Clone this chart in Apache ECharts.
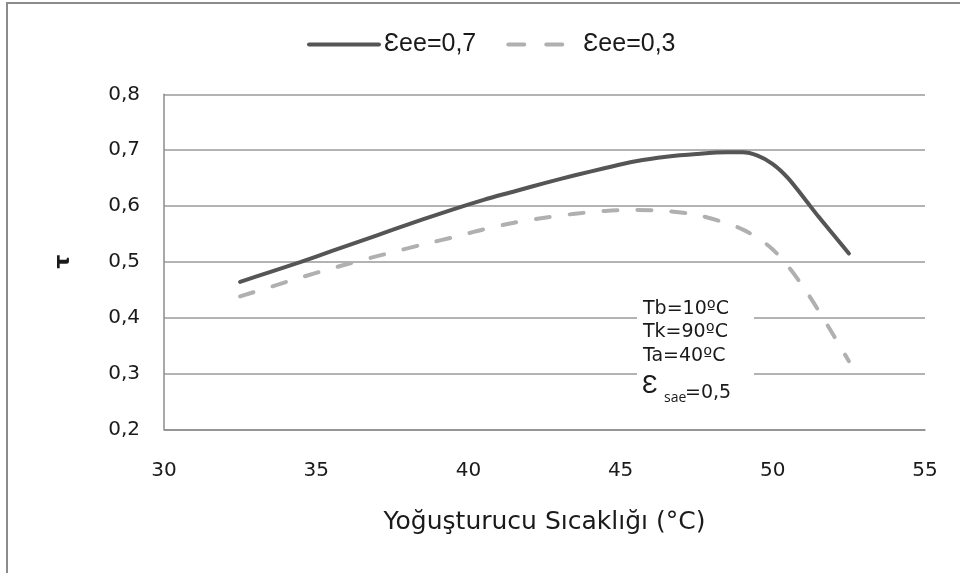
<!DOCTYPE html>
<html><head><meta charset="utf-8">
<script src="https://cdn.jsdelivr.net/npm/echarts@6/dist/echarts.min.js"></script>
<style>html,body{margin:0;padding:0;background:#fff}#c{width:960px;height:573px}</style>
</head><body><div id="c"></div>
<script>
const seriesNames = ['Ɛee=0,7', 'Ɛee=0,3'];
const xValues = [32.5,33.5,34.5,35.5,36.5,37.5,38.5,39.5,40.5,41.5,42.5,43.5,44.5,45.5,46.5,47.5,48.5,49.0,49.5,50.0,50.5,51.0,51.5,52.0,52.5];
const tau07 = [0.464,0.482,0.500,0.519,0.538,0.557,0.576,0.594,0.611,0.626,0.641,0.655,0.668,0.680,0.688,0.693,0.696,0.696,0.690,0.675,0.650,0.616,0.581,0.548,0.515];
const tau03 = [0.438,0.455,0.472,0.488,0.503,0.517,0.531,0.544,0.558,0.570,0.579,0.586,0.591,0.593,0.591,0.584,0.569,0.558,0.543,0.522,0.492,0.455,0.413,0.368,0.322];
const xAxisTitle = 'Yoğuşturucu Sıcaklığı (°C)';
const yAxisTitle = 'τ';
const noteLines = ['Tb=10ºC', 'Tk=90ºC', 'Ta=40ºC'];

const pairs = (ys) => xValues.map((x, i) => [x, ys[i]]);
const comma = (v) => String(v).replace('.', ',');

const chart = echarts.init(document.getElementById('c'), null, {renderer: 'canvas'});
chart.setOption({
  animation: false,
  backgroundColor: '#fff',
  grid: {left: 164, right: 35, top: 94.3, bottom: 143.7},
  legend: {
    left: 302, top: 27, itemWidth: 70, itemHeight: 14, itemGap: 30,
    data: [
      {name: seriesNames[0]},
      {name: seriesNames[1], lineStyle: {type: [16, 22], cap: 'round', width: 4}}
    ],
    itemStyle: {opacity: 0},
    lineStyle: {width: 4},
    textStyle: {fontFamily: '"Liberation Sans", Arial, sans-serif', fontSize: 25, color: '#1a1a1a'}
  },
  xAxis: {
    type: 'value', min: 30, max: 55, interval: 5,
    name: xAxisTitle, nameLocation: 'middle', nameGap: 81,
    nameTextStyle: {fontFamily: '"DejaVu Sans", sans-serif', fontSize: 25, color: '#1a1a1a'},
    axisLine: {show: true, lineStyle: {color: '#8c8c8c', width: 1.5}},
    axisTick: {show: false},
    splitLine: {show: false},
    axisLabel: {margin: 31, fontFamily: '"DejaVu Sans", sans-serif', fontSize: 20, color: '#1a1a1a'}
  },
  yAxis: {
    type: 'value', min: 0.2, max: 0.8, interval: 0.1,
    name: yAxisTitle, nameLocation: 'middle', nameGap: 90,
    nameTextStyle: {fontFamily: '"DejaVu Sans", sans-serif', fontSize: 22, fontWeight: 'bold', color: '#1a1a1a'},
    axisLine: {show: true, lineStyle: {color: '#8c8c8c', width: 1.5}},
    axisTick: {show: false},
    splitLine: {show: true, lineStyle: {color: '#9a9a9a', width: 1.5}},
    axisLabel: {margin: 24, fontFamily: '"DejaVu Sans", sans-serif', fontSize: 20, color: '#1a1a1a',
      formatter: (v) => comma(v.toFixed(1))}
  },
  series: [
    {name: seriesNames[0], type: 'line', data: pairs(tau07), smooth: 0.3, symbol: 'none',
     lineStyle: {color: '#555555', width: 4, cap: 'round'}, itemStyle: {color: '#555555'}, z: 3},
    {name: seriesNames[1], type: 'line', data: pairs(tau03), smooth: 0.3, symbol: 'none',
     lineStyle: {color: '#b0b0b0', width: 4, type: [14, 20], cap: 'round'}, itemStyle: {color: '#b0b0b0'}, z: 2}
  ],
  graphic: [
    {type: 'line', shape: {x1: 7, y1: 2, x2: 7, y2: 573}, style: {stroke: '#8c8c8c', lineWidth: 2}},
    {type: 'line', shape: {x1: 6, y1: 3, x2: 960, y2: 3}, style: {stroke: '#8c8c8c', lineWidth: 2}},
    {type: 'rect', shape: {x: 637, y: 292, width: 117, height: 122}, style: {fill: '#ffffff'}, z: 50},
    {type: 'text', x: 643, y: 297, z: 51, style: {text: noteLines.join('\n'),
      font: '19px "DejaVu Sans", sans-serif', lineHeight: 23.5, fill: '#1a1a1a'}},
    {type: 'text', x: 642, y: 386, z: 51, style: {text: 'Ɛ', font: '26px "Liberation Sans", Arial, sans-serif', fill: '#1a1a1a', verticalAlign: 'middle'}},
    {type: 'text', x: 664, y: 398, z: 51, style: {text: 'sae', font: '14px "Open Sans", sans-serif', fill: '#1a1a1a', verticalAlign: 'middle'}},
    {type: 'text', x: 685, y: 393, z: 51, style: {text: '=0,5', font: '19px "DejaVu Sans", sans-serif', fill: '#1a1a1a', verticalAlign: 'middle'}}
  ]
});
</script>
</body></html>
